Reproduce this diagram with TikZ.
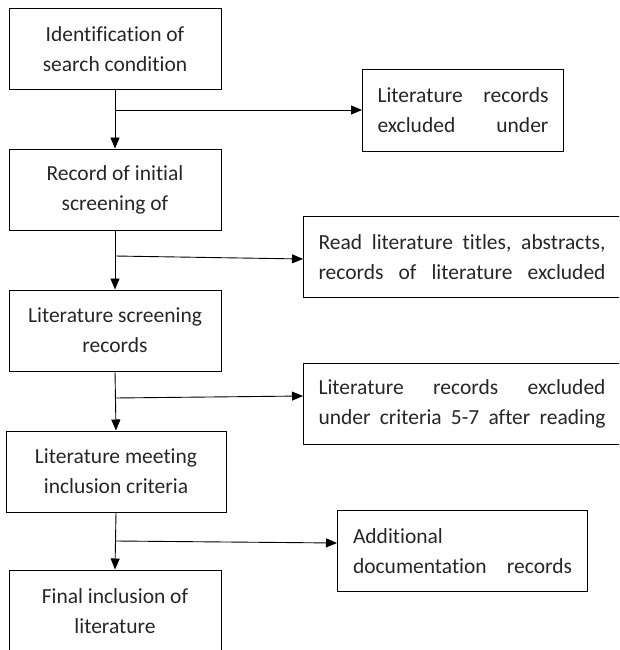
\documentclass[tikz,border=0pt]{standalone}
\usepackage{fontspec}
\setmainfont{Carlito}[Ligatures=NoCommon]
\usetikzlibrary{arrows.meta}
\begin{document}
\begin{tikzpicture}[x=1pt,y=-1pt,
  txt/.style={font=\fontsize{21.5}{30}\selectfont, text=black!85},
  box/.style={txt, draw=black, line width=1pt, minimum width=212pt, minimum height=81pt, align=center, inner sep=0pt},
  sbox/.style={txt, draw=black, line width=1pt, minimum height=81pt, align=left, inner xsep=15pt, inner ysep=0pt, anchor=west},
  arr/.style={-{Triangle[length=11pt,width=9pt]}, line width=0.9pt}]
\useasboundingbox (0,0) rectangle (619,650);
\clip (0,0) rectangle (619,650);
% left column
\node[box] (b1) at (115,49.5) {Identification of\\search condition};
\node[box] (b2) at (115,189.5) {Record of initial\\screening of};
\node[box] (b3) at (115,330.5) {Literature screening\\records};
\node[box, minimum width=220pt] (b4) at (116,471.5) {Literature meeting\\inclusion criteria};
\node[box, minimum height=82pt] (b5) at (115,611) {Final inclusion of\\literature};
% right column
\node[sbox, text width=171pt] (r1) at (362,110.5) {Literature\hfill records\\excluded\hfill under};
\node[sbox, text width=287pt] (r2) at (303,257) {Read\hfill literature\hfill titles,\hfill abstracts,\\records\hfill of\hfill literature\hfill excluded};
\node[sbox, text width=287pt] (r3) at (303,403.5) {Literature\hfill records\hfill excluded\\under\hfill criteria\hfill 5-7\hfill after\hfill reading};
\node[sbox, text width=219pt, inner xsep=15.5pt] (r4) at (337,551) {Additional\\documentation\hfill records};
% junctions
\coordinate (j1) at (b1.south |- 0,110);
\coordinate (j2) at (b2.south |- 0,256);
\coordinate (j3) at (b3.south |- 0,398);
\coordinate (j4) at (b4.south |- 0,541);
% connectors
\draw[arr] (b1.south) -- (b2.north);
\draw[arr] (b2.south) -- (b3.north);
\draw[arr] (b3.south) -- (b4.north);
\draw[arr] (b4.south) -- (b5.north);
\draw[arr] (j1) -- (r1.west |- 0,110);
\draw[arr] (j2) -- (r2.west |- 0,259);
\draw[arr] (j3) -- (r3.west |- 0,396);
\draw[arr] (j4) -- (r4.west |- 0,543);
\end{tikzpicture}
\end{document}
